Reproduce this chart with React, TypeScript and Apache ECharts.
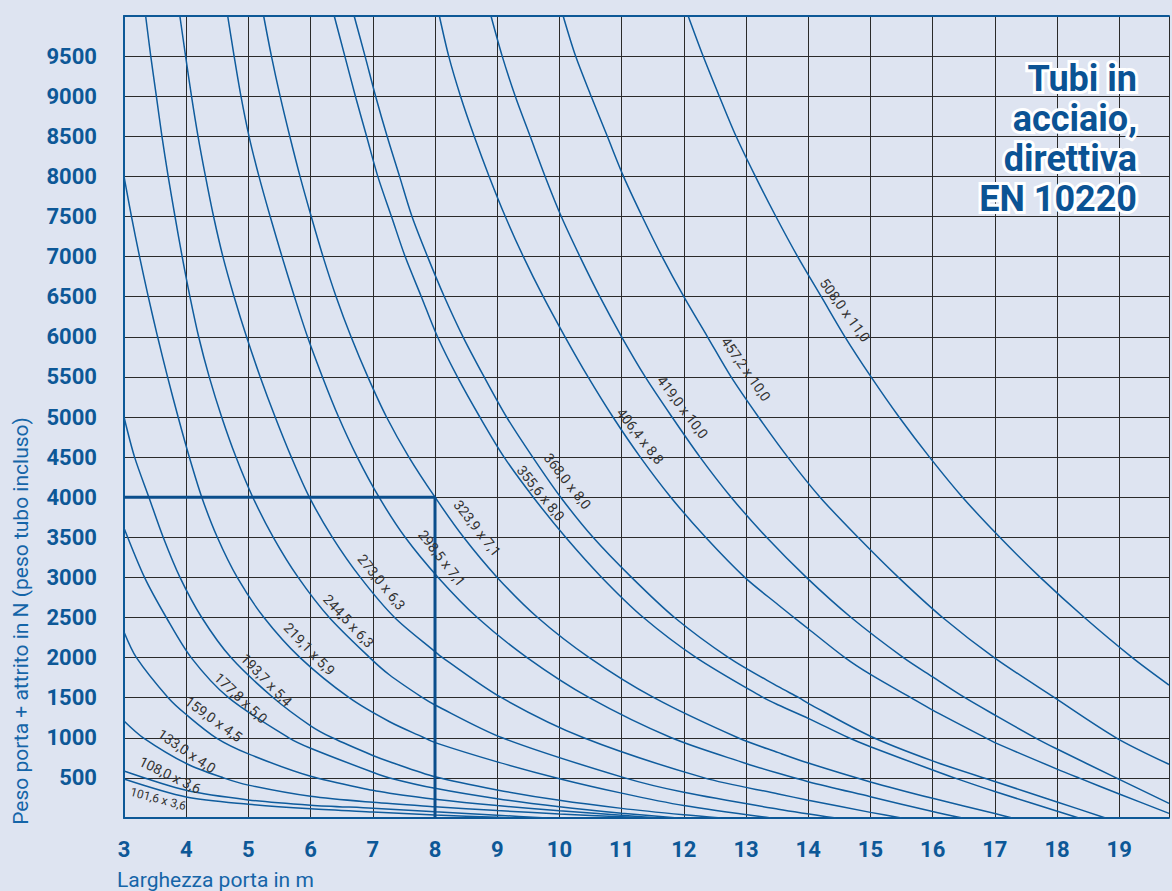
import React, { useEffect, useRef } from "react";
import * as echarts from "echarts";

// ---- Data (x = Larghezza porta in m, y = Peso porta + attrito in N) ----
const X_MIN = 3;
const X_MAX = 19.8;
const Y_MIN = 0;
const Y_MAX = 10000;

const tubeNames = [
  "101,6 x 3,6", "108,0 x 3,6", "133,0 x 4,0", "159,0 x 4,5", "177,8 x 5,0",
  "193,7 x 5,4", "219,1 x 5,9", "244,5 x 6,3", "273,0 x 6,3", "298,5 x 7,1",
  "323,9 x 7,1", "355,6 x 8,0", "368,0 x 8,0", "406,4 x 8,8", "419,0 x 10,0",
  "457,2 x 10,0", "508,0 x 11,0",
];

const t101 = [[3, 486], [4, 262], [5, 172], [6, 115], [7, 75], [8, 37], [9, 8], [9.3, 0]];
const t108 = [[3, 586], [4, 345], [5, 225], [6, 160], [7, 122], [8, 78], [9, 35], [9.8, 0]];
const t133 = [[3, 1210], [3.31, 1000], [4, 680], [4.6, 500], [5, 410], [6, 270], [7, 195], [8, 141], [9, 92], [10, 50], [11, 15], [11.4, 0]];
const t159 = [[3, 2320], [3.2, 2000], [3.71, 1500], [4, 1290], [4.48, 1000], [5, 800], [6, 520], [7, 345], [7.27, 310], [8, 235], [9, 155], [10, 90], [11, 35], [11.6, 0]];
const t177 = [[3, 3616], [3.33, 3000], [3.68, 2500], [4.08, 2000], [4.68, 1500], [5.65, 1000], [6, 870], [7, 570], [7.27, 500], [8, 370], [9, 240], [10, 140], [11, 60], [11.9, 0]];
const t193 = [[3, 5000], [3.17, 4500], [3.4, 4000], [3.63, 3500], [3.9, 3000], [4.25, 2500], [4.72, 2000], [5.4, 1500], [6, 1150], [6.35, 1000], [7, 780], [7.27, 702], [8, 515], [9, 350], [10, 220], [11, 120], [12, 40], [12.6, 0]];
const t219 = [[3, 8000], [3.12, 7500], [3.25, 7000], [3.39, 6500], [3.54, 6000], [3.7, 5500], [3.87, 5000], [4.05, 4500], [4.25, 4000], [4.5, 3500], [4.82, 3000], [5.25, 2500], [5.83, 2000], [6.62, 1500], [7.27, 1200], [7.8, 1010], [8, 940], [9, 700], [10, 490], [11, 310], [12, 155], [13.4, 0]];
const t244 = [[3.348, 10000], [3.43, 9500], [3.52, 9000], [3.61, 8500], [3.71, 8000], [3.82, 7500], [3.935, 7000], [4.06, 6500], [4.2, 6000], [4.37, 5500], [4.57, 5000], [4.8, 4500], [5.07, 4000], [5.4, 3500], [5.8, 3000], [6.3, 2500], [6.95, 2000], [7.27, 1783], [7.8, 1500], [8, 1409], [9.08, 1000], [11.05, 500], [12, 320], [13.52, 110], [14.45, 0]];
const t273 = [[3.898, 10000], [3.99, 9500], [4.085, 9000], [4.19, 8500], [4.31, 8000], [4.44, 7500], [4.59, 7000], [4.77, 6500], [4.97, 6000], [5.19, 5500], [5.43, 5000], [5.69, 4500], [5.98, 4000], [6.35, 3500], [6.8, 3000], [7.35, 2500], [8, 2074], [8.12, 2000], [9.07, 1500], [10.39, 1000], [12.33, 500], [13.52, 300], [14, 222], [15, 70], [15.5, 0]];
const t298 = [[4.667, 10000], [4.77, 9500], [4.88, 9000], [5.01, 8500], [5.17, 8000], [5.35, 7500], [5.54, 7000], [5.74, 6500], [5.95, 6000], [6.19, 5500], [6.45, 5000], [6.75, 4500], [7.1, 4000], [7.52, 3500], [8.05, 3000], [8.68, 2500], [9.48, 2000], [10.48, 1500], [11.8, 1000], [13, 680], [13.52, 557], [14, 453], [15, 266], [16, 80], [16.48, 0]];
const t323 = [[5.245, 10000], [5.37, 9500], [5.51, 9000], [5.665, 8500], [5.83, 8000], [6.01, 7500], [6.2, 7000], [6.41, 6500], [6.65, 6000], [6.92, 5500], [7.22, 5000], [7.58, 4500], [8.0, 4000], [8.46, 3500], [9.0, 3000], [9.65, 2500], [10.48, 2000], [11.52, 1500], [12.87, 1000], [13.52, 815], [14, 685], [15, 450], [16, 245], [17, 55], [17.28, 0]];
const t355 = [[6.38, 10000], [6.55, 9500], [6.72, 9000], [6.9, 8500], [7.08, 8000], [7.3, 7500], [7.52, 7000], [7.78, 6500], [8.04, 6000], [8.36, 5500], [8.72, 5000], [9.11, 4500], [9.58, 4000], [10.1, 3500], [10.68, 3000], [11.35, 2500], [12.2, 2000], [13.28, 1500], [13.52, 1409], [14, 1243], [14.65, 1000], [15, 889], [16, 598], [16.35, 500], [17, 330], [18.35, 0]];
const t368 = [[6.7, 10000], [6.875, 9500], [7.045, 9000], [7.23, 8500], [7.43, 8000], [7.63, 7500], [7.88, 7000], [8.15, 6500], [8.45, 6000], [8.79, 5500], [9.15, 5000], [9.57, 4500], [10.02, 4000], [10.54, 3500], [11.16, 3000], [11.85, 2500], [12.72, 2000], [13.52, 1637], [13.85, 1500], [14, 1430], [15, 1020], [16, 712], [17, 455], [18, 200], [18.78, 0]];
const t406 = [[8.07, 10000], [8.22, 9500], [8.41, 9000], [8.63, 8500], [8.87, 8000], [9.13, 7500], [9.42, 7000], [9.74, 6500], [10.09, 6000], [10.46, 5500], [10.86, 5000], [11.3, 4500], [11.79, 4000], [12.35, 3500], [12.98, 3000], [13.52, 2656], [13.77, 2500], [14, 2360], [14.59, 2000], [15, 1790], [15.65, 1500], [16, 1345], [16.85, 1000], [17, 940], [18, 610], [18.35, 500], [19, 300], [19.8, 58]];
const t419 = [[8.9, 10000], [9.08, 9500], [9.29, 9000], [9.53, 8500], [9.77, 8000], [10.03, 7500], [10.33, 7000], [10.65, 6500], [11.0, 6000], [11.38, 5500], [11.81, 5000], [12.26, 4500], [12.76, 4000], [13.33, 3500], [13.97, 3000], [14.69, 2500], [15.53, 2000], [16, 1760], [16.52, 1500], [17, 1284], [17.65, 1000], [18, 860], [18.95, 500], [19.8, 183]];
const t457 = [[10.06, 10000], [10.26, 9500], [10.51, 9000], [10.77, 8500], [11.03, 8000], [11.33, 7500], [11.65, 7000], [12.0, 6500], [12.38, 6000], [12.76, 5500], [13.2, 5000], [13.67, 4500], [14.19, 4000], [14.8, 3500], [15.45, 3000], [16.16, 2500], [16.99, 2000], [17.96, 1500], [18.95, 1000], [19.8, 670]];
const t508 = [[12.07, 10000], [12.31, 9500], [12.57, 9000], [12.84, 8500], [13.15, 8000], [13.48, 7500], [13.83, 7000], [14.21, 6500], [14.59, 6000], [15.01, 5500], [15.46, 5000], [15.95, 4500], [16.48, 4000], [17.08, 3500], [17.73, 3000], [18.44, 2500], [19.21, 2000], [19.8, 1658]];

const tubeCurves = [t101, t108, t133, t159, t177, t193, t219, t244, t273, t298, t323, t355, t368, t406, t419, t457, t508];

// example reading: 8 m door, 4000 N
const exampleWidth = 8;
const exampleLoad = 4000;

// curve label anchors (data coords) and angle in degrees
const labelX = [3.55, 3.74, 4.01, 4.44, 4.88, 5.29, 5.98, 6.61, 7.14, 8.11, 8.68, 9.7, 10.13, 11.3, 11.98, 13.0, 14.59];
const labelY = [237, 536, 835, 1234, 1496, 1720, 2107, 2456, 2942, 3241, 3615, 4051, 4201, 4762, 5123, 5597, 6333];
const labelAngle = [-15, -26, -34, -36, -43, -46, -46, -47, -51, -52, -52, -51, -52, -52, -53, -55, -54];

const titleLines = ["Tubi in", "acciaio,", "direttiva", "EN 10220"];
const xTitle = "Larghezza porta in m";
const yTitle = "Peso porta + attrito in N (peso tubo incluso)";

const BLUE = "#0d5897";
const CURVE = "#0f5c9d";
const GRID = "#2a2a2a";
const BG = "#dee4f1";

export default function App() {
  const ref = useRef<HTMLDivElement>(null);

  useEffect(() => {
    document.body.style.margin = "0";
    const chart = echarts.init(ref.current as HTMLDivElement, null, { renderer: "svg" });

    const series: any[] = tubeCurves.map((d, i) => ({
      type: "line",
      name: tubeNames[i],
      data: d,
      smooth: 0.3,
      symbol: "none",
      showSymbol: false,
      silent: true,
      clip: true,
      z: 3,
      lineStyle: { color: CURVE, width: 1.5 },
    }));
    series.push({
      type: "line",
      name: "esempio",
      data: [[X_MIN, exampleLoad], [exampleWidth, exampleLoad], [exampleWidth, 0]],
      symbol: "none",
      silent: true,
      z: 4,
      lineStyle: { color: "#0b4e8c", width: 3 },
    });

    chart.setOption({
      animation: false,
      backgroundColor: BG,
      grid: { left: 124, top: 16, right: 0, bottom: 73, containLabel: false },
      xAxis: [
        {
          type: "value",
          min: X_MIN,
          max: X_MAX,
          interval: 1,
          axisLine: { show: true, lineStyle: { color: BLUE, width: 2 } },
          axisTick: { show: false },
          axisLabel: {
            margin: 20,
            color: BLUE,
            fontFamily: "Roboto",
            fontWeight: "bold",
            fontSize: 22,
            formatter: (v: number) => (Number.isInteger(v) ? String(v) : ""),
          },
          splitLine: { show: true, lineStyle: { color: GRID, width: 1 } },
        },
        {
          type: "value",
          position: "top",
          min: X_MIN,
          max: X_MAX,
          axisLine: { show: true, lineStyle: { color: BLUE, width: 2 } },
          axisTick: { show: false },
          axisLabel: { show: false },
          splitLine: { show: false },
        },
      ],
      yAxis: {
        type: "value",
        min: Y_MIN,
        max: Y_MAX,
        interval: 500,
        axisLine: { show: true, lineStyle: { color: BLUE, width: 2 } },
        axisTick: { show: false },
        axisLabel: {
          margin: 27,
          color: BLUE,
          fontFamily: "Roboto",
          fontWeight: "bold",
          fontSize: 22,
          formatter: (v: number) => (v === 0 || v === 10000 ? "" : String(v)),
        },
        splitLine: { show: true, lineStyle: { color: GRID, width: 1 } },
      },
      series,
    });

    const graphics: any[] = [];
    tubeNames.forEach((name, i) => {
      const p = chart.convertToPixel({ gridIndex: 0 }, [labelX[i], labelY[i]]) as number[];
      graphics.push({
        type: "text",
        x: p[0],
        y: p[1],
        rotation: (labelAngle[i] * Math.PI) / 180,
        silent: true,
        z: 10,
        style: {
          text: name,
          x: 0,
          y: 0,
          align: "center",
          verticalAlign: "middle",
          fill: "#333333",
          font: (i === 0 ? "12px" : "14px") + " Roboto",
        },
      });
    });

    titleLines.forEach((line, i) => {
      const y = 79 + i * 40;
      graphics.push({
        type: "text",
        x: 1137,
        y,
        silent: true,
        z: 11,
        style: {
          text: line,
          align: "right",
          verticalAlign: "middle",
          fill: "#ffffff",
          stroke: "#ffffff",
          lineWidth: 6,
          lineJoin: "round",
          font: "bold 36px Roboto",
        },
      });
      graphics.push({
        type: "text",
        x: 1137,
        y,
        silent: true,
        z: 12,
        style: {
          text: line,
          align: "right",
          verticalAlign: "middle",
          fill: "#0b5394",
          font: "bold 36px Roboto",
        },
      });
    });

    graphics.push({
      type: "text",
      x: 117,
      y: 880,
      silent: true,
      style: { text: xTitle, align: "left", verticalAlign: "middle", fill: "#1565a8", font: "21px Roboto" },
    });
    graphics.push({
      type: "text",
      x: 21,
      y: 621,
      rotation: Math.PI / 2,
      silent: true,
      style: { text: yTitle, align: "center", verticalAlign: "middle", fill: "#1565a8", font: "21px Roboto" },
    });

    chart.setOption({ graphic: graphics });

    return () => chart.dispose();
  }, []);

  return (
    <div
      ref={ref}
      style={{ position: "absolute", left: 0, top: 0, width: 1172, height: 891 }}
    />
  );
}
